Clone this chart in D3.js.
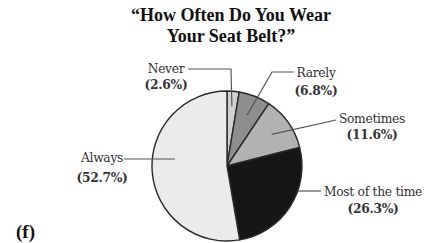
<!DOCTYPE html>
<html><head><meta charset="utf-8">
<script src="https://cdn.jsdelivr.net/npm/d3@7"></script>
<style>html,body{margin:0;padding:0;background:#fff;}svg{display:block;}</style>
</head><body>
<svg id="c" width="431" height="243"></svg>
<script>
const categories = ["Never", "Rarely", "Sometimes", "Most of the time", "Always"];
const values = [2.6, 6.8, 11.6, 26.3, 52.7];
const percentLabels = ["(2.6%)", "(6.8%)", "(11.6%)", "(26.3%)", "(52.7%)"];
const titleLines = ["\u201CHow Often Do You Wear", "Your Seat Belt?\u201D"];
const panelLabel = "(f)";

const fills = ["#d2d2d2", "#8e8e8e", "#b2b2b2", "#161616", "#ebebeb"];
const svg = d3.select("#c");
const cx = 227, cy = 166, R = 75;

// title
svg.selectAll("text.title").data(titleLines).join("text")
  .attr("class", "title")
  .attr("x", 231).attr("y", (d, i) => 21 + i * 21)
  .attr("text-anchor", "middle")
  .attr("font-family", "Liberation Serif, Times New Roman, serif")
  .attr("font-weight", "bold").attr("font-size", 18).attr("fill", "#111")
  .text(d => d);

svg.append("text").attr("x", 16).attr("y", 238)
  .attr("font-family", "Liberation Serif, Times New Roman, serif")
  .attr("font-weight", "bold").attr("font-size", 19).attr("fill", "#111")
  .text(panelLabel);

const pie = d3.pie().sort(null).value(d => d);
const arcs = pie(values);
const arc = d3.arc().innerRadius(0).outerRadius(R);
const g = svg.append("g").attr("transform", `translate(${cx},${cy})`);
g.selectAll("path").data(arcs).join("path")
  .attr("d", arc)
  .attr("fill", (d, i) => fills[i])
  .attr("stroke", "#2a2a2a").attr("stroke-width", 1.4).attr("stroke-linejoin", "round");

// label layout (positions only)
const layout = [
  { tx: 166, ty: 73, gap: 16, path: [[188, 69], [231, 69]], rf: 0.8 },
  { tx: 316, ty: 77, gap: 18, path: [[294, 72], [272, 72]], rf: 0.73 },
  { tx: 372, ty: 123, gap: 16, path: [[336, 120]], rf: 0.73 },
  { tx: 373, ty: 196, gap: 17, path: [[321, 191]], edgeY: 191 },
  { tx: 102, ty: 162, gap: 20, path: [[124, 159]], edgeY: 159, inner: 52 }
];
function endPoint(i) {
  const L = layout[i];
  const a = (arcs[i].startAngle + arcs[i].endAngle) / 2;
  if (L.edgeY !== undefined) {
    const dy = L.edgeY - cy;
    const side = Math.sin(a) >= 0 ? 1 : -1;
    const dx = L.inner !== undefined ? L.inner : Math.sqrt(R * R - dy * dy);
    return [cx + side * dx, L.edgeY];
  }
  return [cx + Math.sin(a) * R * L.rf, cy - Math.cos(a) * R * L.rf];
}
const line = d3.line();
svg.selectAll("path.leader").data(categories).join("path")
  .attr("class", "leader")
  .attr("d", (d, i) => line(layout[i].path.concat([endPoint(i)])))
  .attr("fill", "none").attr("stroke", "#555").attr("stroke-width", 1.2);

const lab = svg.selectAll("g.lab").data(categories).join("g").attr("class", "lab");
lab.append("text")
  .attr("x", (d, i) => layout[i].tx).attr("y", (d, i) => layout[i].ty)
  .attr("text-anchor", "middle")
  .attr("font-family", "DejaVu Serif, serif").attr("font-size", 12.3)
  .attr("fill", "#333").attr("letter-spacing", -0.3)
  .text(d => d);
lab.append("text")
  .attr("x", (d, i) => layout[i].tx).attr("y", (d, i) => layout[i].ty + layout[i].gap)
  .attr("text-anchor", "middle")
  .attr("font-family", "DejaVu Serif, serif").attr("font-size", 12.3).attr("font-weight", "bold")
  .attr("fill", "#333").attr("letter-spacing", -0.3)
  .text((d, i) => percentLabels[i]);
</script>
</body></html>
